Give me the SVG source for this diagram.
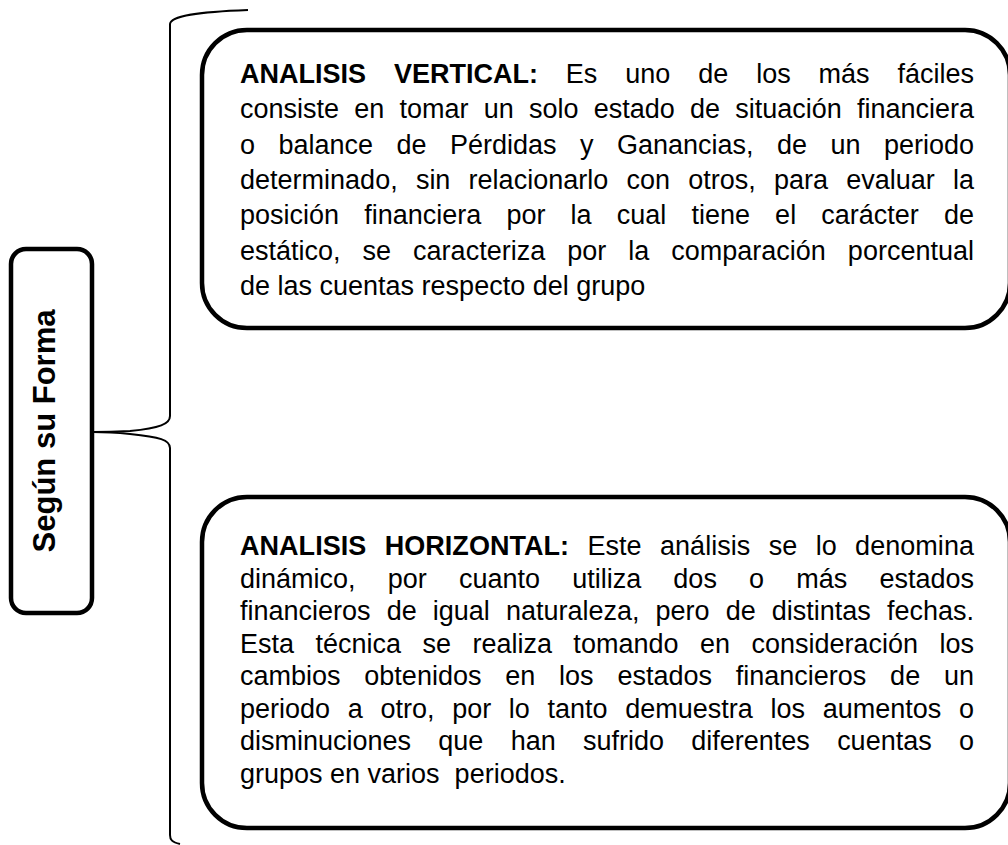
<svg xmlns="http://www.w3.org/2000/svg" width="1008" height="845" viewBox="0 0 1008 845">
<style>
.box{fill:#fff;stroke:#000;stroke-width:4.5}
.brace{fill:none;stroke:#000;stroke-width:2}
.t{font-family:"Liberation Sans",Arial,sans-serif;font-size:27px;fill:#000}
.b{font-weight:bold}
.lbl{font-family:"Liberation Sans",Arial,sans-serif;font-size:31px;font-weight:bold;fill:#000}
</style>
<rect width="1008" height="845" fill="#fff"/>
<g id="connectors">
<path class="brace" d="M248,10 C195,12 171,16 170,24 L170,416 C170,424 160,428 130,431 C110,432 100,432 93,432 C100,432 110,432 130,434 C160,437 170,440 170,448 L170,835 C170,840 172,842 180,844"/>
</g>
<g id="forma">
<rect class="box" x="11" y="249" width="81" height="364" rx="15"/>
<text class="lbl" transform="translate(55,431) rotate(-90)" text-anchor="middle">Según su Forma</text>
</g>
<g id="vertical">
<rect class="box" x="202" y="30" width="808" height="298" rx="45"/>
<text class="t" x="240" y="83" word-spacing="20.4" textLength="734" lengthAdjust="spacing"><tspan class="b">ANALISIS VERTICAL:</tspan> Es uno de los más fáciles</text>
<text class="t" x="240" y="118" word-spacing="7.7" textLength="734" lengthAdjust="spacing">consiste en tomar un solo estado de situación financiera</text>
<text class="t" x="240" y="154" word-spacing="16" textLength="734" lengthAdjust="spacing">o balance de Pérdidas y Ganancias, de un periodo</text>
<text class="t" x="240" y="189" word-spacing="10.7" textLength="734" lengthAdjust="spacing">determinado, sin relacionarlo con otros, para evaluar la</text>
<text class="t" x="240" y="224" word-spacing="17.6" textLength="734" lengthAdjust="spacing">posición financiera por la cual tiene el carácter de</text>
<text class="t" x="240" y="260" word-spacing="14.5" textLength="734" lengthAdjust="spacing">estático, se caracteriza por la comparación porcentual</text>
<text class="t" x="240" y="295">de las cuentas respecto del grupo</text>
</g>
<g id="horizontal">
<rect class="box" x="202" y="497" width="808" height="331" rx="45"/>
<text class="t" x="240" y="555" word-spacing="10.8" textLength="734" lengthAdjust="spacing"><tspan class="b">ANALISIS HORIZONTAL:</tspan> Este análisis se lo denomina</text>
<text class="t" x="240" y="588" word-spacing="24.7" textLength="734" lengthAdjust="spacing">dinámico, por cuanto utiliza dos o más estados</text>
<text class="t" x="240" y="620" word-spacing="8.6" textLength="734" lengthAdjust="spacing">financieros de igual naturaleza, pero de distintas fechas.</text>
<text class="t" x="240" y="653" word-spacing="13.9" textLength="734" lengthAdjust="spacing">Esta técnica se realiza tomando en consideración los</text>
<text class="t" x="240" y="685" word-spacing="16.3" textLength="734" lengthAdjust="spacing">cambios obtenidos en los estados financieros de un</text>
<text class="t" x="240" y="718" word-spacing="10.2" textLength="734" lengthAdjust="spacing">periodo a otro, por lo tanto demuestra los aumentos o</text>
<text class="t" x="240" y="750" word-spacing="19.8" textLength="734" lengthAdjust="spacing">disminuciones que han sufrido diferentes cuentas o</text>
<text class="t" x="240" y="783" xml:space="preserve">grupos en varios  periodos.</text>
</g>
</svg>
